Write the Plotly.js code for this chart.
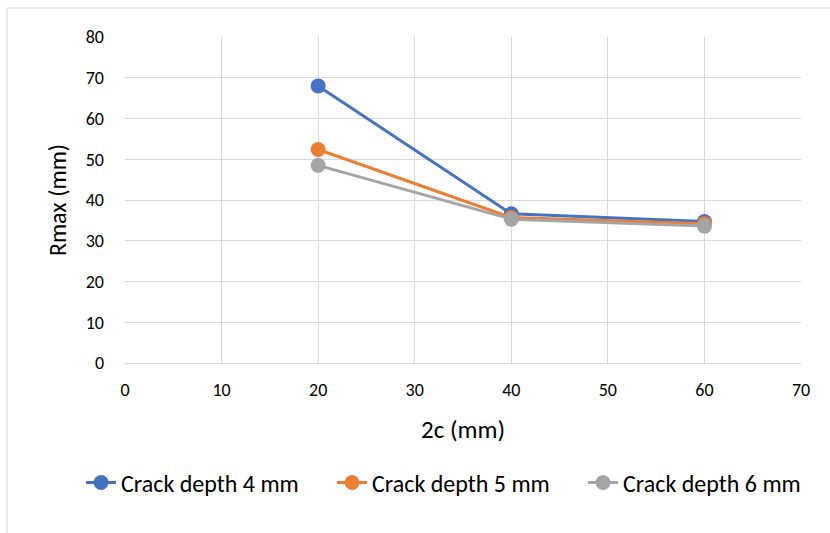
<!DOCTYPE html>
<html>
<head>
<meta charset="utf-8">
<script src="https://cdn.plot.ly/plotly-3.0.1.min.js"></script>
<style>
  html, body { margin: 0; padding: 0; background: #ffffff; }
  #chart { width: 830px; height: 533px; }
</style>
</head>
<body>
<div id="chart"></div>
<script>
// Crack length 2c (mm) on the x axis
var crackLength = [20, 40, 60];

// Rmax (mm) for each crack depth
var depth4mm = [68.0, 36.6, 34.7];
var depth5mm = [52.4, 35.7, 34.2];
var depth6mm = [48.5, 35.3, 33.6];

var seriesNames = ['Crack depth 4 mm', 'Crack depth 5 mm', 'Crack depth 6 mm'];
var seriesColors = ['#4472C4', '#ED7D31', '#A5A5A5'];
var seriesValues = [depth4mm, depth5mm, depth6mm];

var xTicks = [0, 10, 20, 30, 40, 50, 60, 70];
var yTicks = [0, 10, 20, 30, 40, 50, 60, 70, 80];

var fontFamily = 'Carlito, Calibri, Lato, "Noto Sans", sans-serif';

var traces = seriesValues.map(function (vals, i) {
  return {
    x: crackLength,
    y: vals,
    name: seriesNames[i],
    type: 'scatter',
    mode: 'lines+markers',
    line: { color: seriesColors[i], width: 3 },
    marker: { color: seriesColors[i], size: 15 }
  };
});

var layout = {
  width: 830,
  height: 533,
  paper_bgcolor: '#ffffff',
  plot_bgcolor: '#ffffff',
  margin: { l: 125, r: 29, t: 37, b: 170, autoexpand: false },
  font: { family: fontFamily, size: 18, color: '#000000' },
  showlegend: true,
  legend: {
    orientation: 'h',
    x: -0.065,
    xanchor: 'left',
    y: -0.368,
    yanchor: 'middle',
    font: { family: fontFamily, size: 24, color: '#000000' },
    entrywidth: 206,
    entrywidthmode: 'pixels'
  },
  xaxis: {
    range: [0, 70],
    tickvals: xTicks,
    automargin: true,
    showgrid: true,
    gridcolor: '#d9d9d9',
    gridwidth: 1,
    zeroline: false,
    showline: true,
    linecolor: '#d9d9d9',
    ticks: '',
    ticklabelstandoff: 10,
    tickfont: { family: fontFamily, size: 18, color: '#000000' },
    title: { text: '2c (mm)', font: { family: fontFamily, size: 25, color: '#000000' }, standoff: 20 }
  },
  yaxis: {
    range: [0, 80],
    tickvals: yTicks,
    automargin: true,
    showgrid: true,
    gridcolor: '#d9d9d9',
    gridwidth: 1,
    zeroline: false,
    showline: false,
    ticks: '',
    ticklabelstandoff: 20,
    tickfont: { family: fontFamily, size: 18, color: '#000000' },
    title: { text: 'Rmax (mm)', font: { family: fontFamily, size: 24, color: '#000000' }, standoff: 12 }
  },
  shapes: [
    // outer chart frame
    {
      type: 'rect', xref: 'paper', yref: 'paper',
      x0: -0.1746, x1: 1.2, y0: -0.8, y1: 1.089,
      line: { color: '#d9d9d9', width: 1 },
      fillcolor: 'rgba(0,0,0,0)',
      layer: 'below'
    }
  ]
};

Plotly.newPlot('chart', traces, layout, { displayModeBar: false, staticPlot: true });
</script>
</body>
</html>
